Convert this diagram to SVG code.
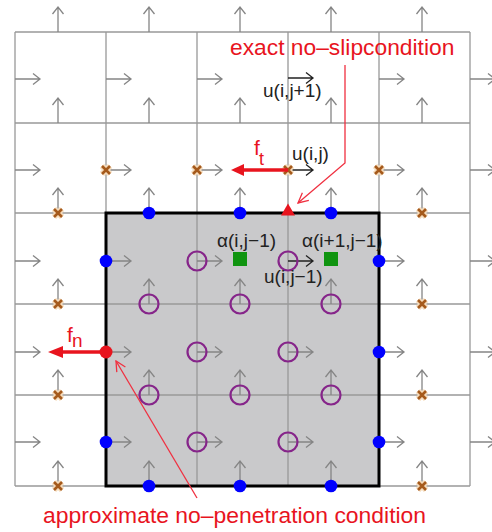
<svg xmlns="http://www.w3.org/2000/svg" xmlns:xlink="http://www.w3.org/1999/xlink" width="492" height="532" viewBox="0 0 492 532">
<style>
.grid{stroke:#999;stroke-width:1.3;fill:none}
.ar{stroke:#858585;stroke-width:1.3;fill:none}
.arb{stroke:#222;stroke-width:1.3;fill:none}
.gx{stroke:#a55a1c;stroke-width:2.6;fill:none}
.gxh{stroke:#f6dcbc;stroke-width:6;fill:none}
.bd{fill:#0000ff}
.pc{fill:none;stroke:#86258a;stroke-width:2.2}
.gs{fill:#109410}
.lab{font-family:"Liberation Sans",Arial,sans-serif;font-size:19px;fill:#222}
.red{font-family:"Liberation Sans",Arial,sans-serif;fill:#e8141e}
.ptr{stroke:#f03040;stroke-width:1.3;fill:none}
</style>
<defs>
<path id="ua" d="M0,0 H25 M18,-5.5 L25,0 L18,5.5"/>
<path id="va" d="M0,0 V-25 M-5.5,-18 L0,-25 L5.5,-18"/>
<g id="gx"><path class="gxh" d="M-4,-4 L4,4 M-4,4 L4,-4"/><path class="gx" d="M-4,-4 L4,4 M-4,4 L4,-4"/></g>
<marker id="pa" viewBox="0 0 12 12" refX="11" refY="6" markerWidth="12" markerHeight="12" markerUnits="userSpaceOnUse" orient="auto"><path d="M1,1 L11,6 L1,11" fill="none" stroke="#f03040" stroke-width="1.3"/></marker>
</defs>
<rect id="solid" x="106" y="213" width="273" height="273" fill="#c9c9cb"/>
<g id="grid" class="grid">
<path d="M15,32 H470 M15,123 H470 M15,213 H470 M15,304 H470 M15,395 H470 M15,486 H470"/>
<path d="M15,32 V486 M106,32 V486 M197,32 V486 M288,32 V486 M379,32 V486 M470,32 V486"/>
</g>
<g id="v-arrows" class="ar">
<use xlink:href="#va" x="58" y="32"/><use xlink:href="#va" x="149" y="32"/><use xlink:href="#va" x="240" y="32"/><use xlink:href="#va" x="331" y="32"/><use xlink:href="#va" x="422" y="32"/>
<use xlink:href="#va" x="58" y="123"/><use xlink:href="#va" x="149" y="123"/><use xlink:href="#va" x="240" y="123"/><use xlink:href="#va" x="331" y="123"/><use xlink:href="#va" x="422" y="123"/>
<use xlink:href="#va" x="58" y="213"/><use xlink:href="#va" x="149" y="213"/><use xlink:href="#va" x="240" y="213"/><use xlink:href="#va" x="331" y="213"/><use xlink:href="#va" x="422" y="213"/>
<use xlink:href="#va" x="58" y="304"/><use xlink:href="#va" x="149" y="304"/><use xlink:href="#va" x="240" y="304"/><use xlink:href="#va" x="331" y="304"/><use xlink:href="#va" x="422" y="304"/>
<use xlink:href="#va" x="58" y="395"/><use xlink:href="#va" x="149" y="395"/><use xlink:href="#va" x="240" y="395"/><use xlink:href="#va" x="331" y="395"/><use xlink:href="#va" x="422" y="395"/>
<use xlink:href="#va" x="58" y="486"/><use xlink:href="#va" x="149" y="486"/><use xlink:href="#va" x="240" y="486"/><use xlink:href="#va" x="331" y="486"/><use xlink:href="#va" x="422" y="486"/>
</g>
<g id="u-arrows" class="ar">
<use xlink:href="#ua" x="15" y="79"/><use xlink:href="#ua" x="106" y="79"/><use xlink:href="#ua" x="197" y="79"/><use xlink:href="#ua" x="379" y="79"/><use xlink:href="#ua" x="470" y="79"/>
<use xlink:href="#ua" x="15" y="170"/><use xlink:href="#ua" x="106" y="170"/><use xlink:href="#ua" x="197" y="170"/><use xlink:href="#ua" x="379" y="170"/><use xlink:href="#ua" x="470" y="170"/>
<use xlink:href="#ua" x="15" y="261"/><use xlink:href="#ua" x="106" y="261"/><use xlink:href="#ua" x="197" y="261"/><use xlink:href="#ua" x="379" y="261"/><use xlink:href="#ua" x="470" y="261"/>
<use xlink:href="#ua" x="15" y="352"/><use xlink:href="#ua" x="106" y="352"/><use xlink:href="#ua" x="197" y="352"/><use xlink:href="#ua" x="288" y="352"/><use xlink:href="#ua" x="379" y="352"/><use xlink:href="#ua" x="470" y="352"/>
<use xlink:href="#ua" x="15" y="442"/><use xlink:href="#ua" x="106" y="442"/><use xlink:href="#ua" x="197" y="442"/><use xlink:href="#ua" x="288" y="442"/><use xlink:href="#ua" x="379" y="442"/><use xlink:href="#ua" x="470" y="442"/>
</g>
<g id="labeled-arrows" class="arb">
<use xlink:href="#ua" x="288" y="78"/>
<use xlink:href="#ua" x="288" y="170"/>
<use xlink:href="#ua" x="288" y="261"/>
</g>
<rect id="border" x="106" y="213" width="273" height="273" fill="none" stroke="#000" stroke-width="3"/>
<g id="ghost-points">
<use xlink:href="#gx" x="106" y="170"/><use xlink:href="#gx" x="197" y="170"/><use xlink:href="#gx" x="288" y="170"/><use xlink:href="#gx" x="379" y="170"/>
<use xlink:href="#gx" x="58" y="213"/><use xlink:href="#gx" x="58" y="304"/><use xlink:href="#gx" x="58" y="395"/><use xlink:href="#gx" x="58" y="486"/>
<use xlink:href="#gx" x="422" y="213"/><use xlink:href="#gx" x="422" y="304"/><use xlink:href="#gx" x="422" y="395"/><use xlink:href="#gx" x="422" y="486"/>
</g>
<g id="boundary-points" class="bd">
<circle cx="149" cy="213" r="6.3"/><circle cx="240" cy="213" r="6.3"/><circle cx="331" cy="213" r="6.3"/>
<circle cx="149" cy="486" r="6.3"/><circle cx="240" cy="486" r="6.3"/><circle cx="331" cy="486" r="6.3"/>
<circle cx="106" cy="261" r="6.3"/><circle cx="106" cy="442" r="6.3"/>
<circle cx="379" cy="261" r="6.3"/><circle cx="379" cy="352" r="6.3"/><circle cx="379" cy="442" r="6.3"/>
</g>
<g id="interior-points" class="pc">
<circle cx="197" cy="261" r="9.5"/><circle cx="288" cy="261" r="9.5"/>
<circle cx="149" cy="304" r="9.5"/><circle cx="240" cy="304" r="9.5"/><circle cx="331" cy="304" r="9.5"/>
<circle cx="197" cy="352" r="9.5"/><circle cx="288" cy="352" r="9.5"/>
<circle cx="149" cy="395" r="9.5"/><circle cx="240" cy="395" r="9.5"/><circle cx="331" cy="395" r="9.5"/>
<circle cx="197" cy="442" r="9.5"/><circle cx="288" cy="442" r="9.5"/>
</g>
<g id="alpha-points" class="gs">
<rect x="233" y="252" width="14" height="14"/>
<rect x="324" y="252" width="14" height="14"/>
</g>
<g id="forces">
<path d="M288,170 H240" stroke="#e8141e" stroke-width="3.5" fill="none"/>
<polygon points="231,170 244,164 244,176" fill="#e8141e"/>
<path d="M106,352 H60" stroke="#e8141e" stroke-width="3.5" fill="none"/>
<polygon points="48,352 63,346 63,358" fill="#e8141e"/>
<circle cx="106" cy="352" r="6.5" fill="#e8141e"/>
<polygon points="281,215.5 295,215.5 288,203.5" fill="#e8141e"/>
</g>
<g id="connectors">
<polyline class="ptr" points="345,65 345,163 298,203" marker-end="url(#pa)"/>
<line class="ptr" x1="197" y1="498" x2="116" y2="361" marker-end="url(#pa)"/>
</g>
<g id="labels">
<text class="lab" x="263" y="97">u(i,j+1)</text>
<text class="lab" x="292" y="160">u(i,j)</text>
<text class="lab" x="217" y="247">α(i,j−1)</text>
<text class="lab" x="302" y="247">α(i+1,j−1)</text>
<text class="lab" x="264" y="283">u(i,j−1)</text>
<text class="red" x="254" y="155" font-size="21">f</text>
<text class="red" x="259" y="165" font-size="18">t</text>
<text class="red" x="67" y="342" font-size="21">f</text>
<text class="red" x="72" y="347" font-size="19">n</text>
<text class="red" x="230" y="55" font-size="22.8">exact no–slipcondition</text>
<text class="red" x="43" y="523" font-size="22.9">approximate no–penetration condition</text>
</g>
</svg>
